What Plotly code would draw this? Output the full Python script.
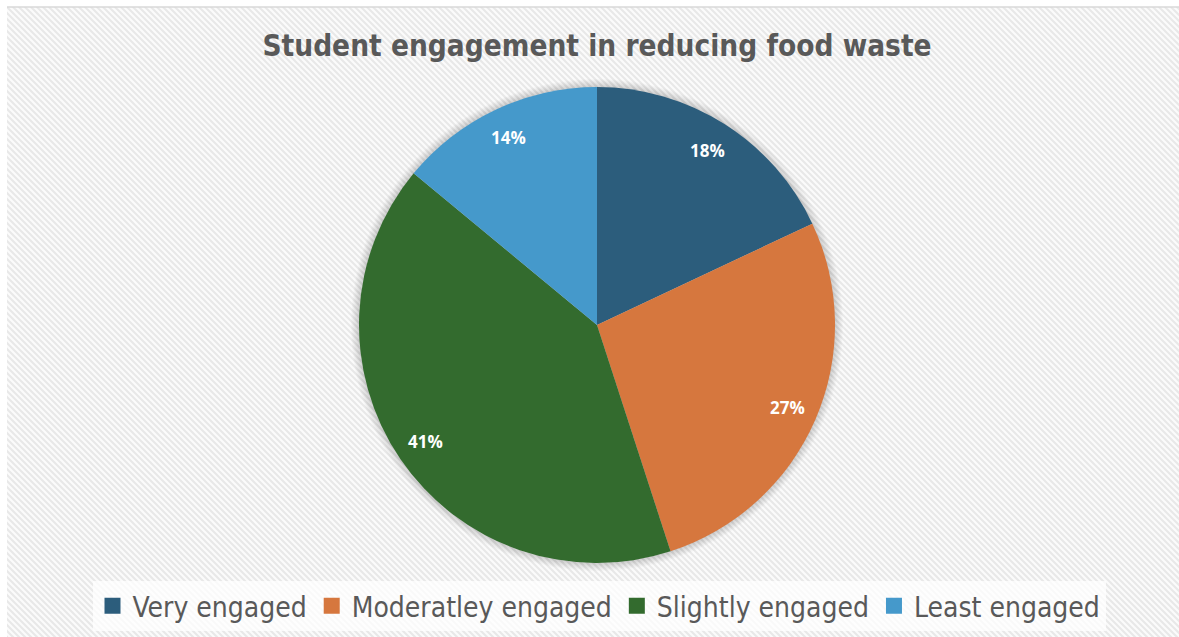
import base64
import math

import plotly.graph_objects as go

# Survey result: share of students by engagement level
categories = ["Very engaged", "Moderatley engaged", "Slightly engaged", "Least engaged"]
shares = [18, 27, 41, 14]
colors = ["#2c5d7c", "#d6773e", "#336b2e", "#4599cb"]
title_text = "Student engagement in reducing food waste"

W, H = 1179, 637
CX, CY, R = 597, 325, 238          # pie centre / radius in pixels
FRAME = 7                           # inset of the hatched chart area
TEXT_GREY = "#595959"
NARROW = "Liberation Sans Narrow, DejaVu Sans Condensed, Roboto, sans-serif"


def px_x(x):
    return x / W


def px_y(y):
    return 1 - y / H


# Diagonal-hatch background tile, stretched over the chart area
aw, ah = W - FRAME, H - FRAME
svg = (
    f'<svg xmlns="http://www.w3.org/2000/svg" width="{aw}" height="{ah}" '
    f'viewBox="0 0 {aw} {ah}" preserveAspectRatio="none">'
    '<defs><pattern id="h" width="6" height="6" patternUnits="userSpaceOnUse">'
    '<rect width="6" height="6" fill="#fbfbfb"/>'
    '<path d="M-1,-1 L7,7 M5,-1 L7,1 M-1,5 L1,7" stroke="#e8e8e8" stroke-width="2"/>'
    '</pattern></defs>'
    f'<rect width="{aw}" height="{ah}" fill="url(#h)"/></svg>'
)
hatch_uri = "data:image/svg+xml;base64," + base64.b64encode(svg.encode()).decode()

fig = go.Figure()

fig.add_trace(go.Pie(
    labels=categories,
    values=shares,
    marker=dict(colors=colors, line=dict(width=0)),
    sort=False,
    direction="clockwise",
    rotation=0,
    textinfo="none",
    hoverinfo="label+percent",
    showlegend=False,
    domain=dict(x=[px_x(CX - R), px_x(CX + R)], y=[px_y(CY + R), px_y(CY - R)]),
))

# Legend entries (square swatches) for each category
for name, col in zip(categories, colors):
    fig.add_trace(go.Scatter(
        x=[None], y=[None], mode="markers", name=name,
        marker=dict(symbol="square", size=16, color=col),
        hoverinfo="skip",
    ))

# Percentage labels placed inside each slice, from the slice angles
total = sum(shares)
annotations = []
cum = 0
for s in shares:
    mid = (cum + s / 2) / total * 2 * math.pi
    cum += s
    lx = CX + 0.87 * R * math.sin(mid)
    ly = CY - 0.87 * R * math.cos(mid)
    annotations.append(dict(
        x=px_x(lx), y=px_y(ly), xref="paper", yref="paper",
        text=f"<b>{s}%</b>", showarrow=False,
        font=dict(family="Open Sans, sans-serif", size=17, color="white"),
        xanchor="center", yanchor="middle",
    ))

# Soft shadow halo round the pie
shapes = []
for k in range(1, 9):
    r = R + k
    shapes.append(dict(
        type="circle", xref="paper", yref="paper", layer="below",
        x0=px_x(CX - r), x1=px_x(CX + r), y0=px_y(CY + r), y1=px_y(CY - r),
        fillcolor="rgba(0,0,0,0.018)", line=dict(width=0),
    ))
# Thin top border of the chart frame
shapes.append(dict(
    type="line", xref="paper", yref="paper", layer="above",
    x0=px_x(FRAME), x1=1, y0=px_y(FRAME), y1=px_y(FRAME),
    line=dict(color="#d9d9d9", width=1.5),
))

fig.update_layout(
    width=W, height=H,
    margin=dict(l=0, r=0, t=0, b=0),
    paper_bgcolor="white",
    plot_bgcolor="rgba(0,0,0,0)",
    xaxis=dict(visible=False), yaxis=dict(visible=False),
    title=dict(
        text=title_text, x=px_x(CX), xanchor="center", y=px_y(46), yanchor="middle",
        font=dict(family=NARROW, size=29.5, color=TEXT_GREY, weight=700),
    ),
    legend=dict(
        orientation="h", x=px_x(CX + 2), xanchor="center", y=px_y(631), yanchor="bottom",
        bgcolor="rgba(255,255,255,0.75)",
        font=dict(family=NARROW, size=28, color=TEXT_GREY),
        itemclick=False, itemdoubleclick=False,
    ),
    images=[dict(
        source=hatch_uri, xref="paper", yref="paper",
        x=px_x(FRAME), y=px_y(FRAME), sizex=1 - px_x(FRAME), sizey=1 - FRAME / H,
        xanchor="left", yanchor="top", sizing="stretch", layer="below",
    )],
    shapes=shapes,
    annotations=annotations,
)

fig.write_html("out.html")
